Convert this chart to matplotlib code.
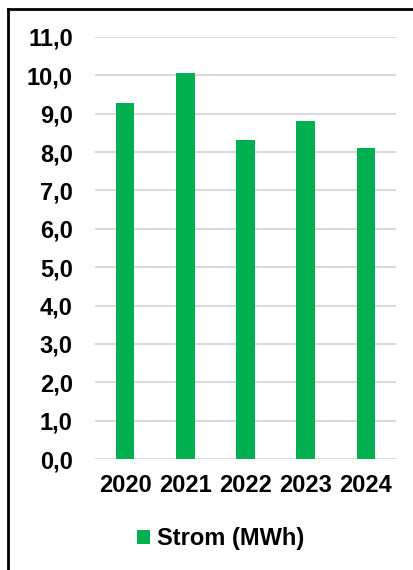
import matplotlib
matplotlib.use("Agg")
import matplotlib.pyplot as plt
from matplotlib.lines import Line2D

# ── Data ─────────────────────────────────────────────────────────────────────
years = ["2020", "2021", "2022", "2023", "2024"]
strom_mwh = [9.28, 10.07, 8.31, 8.81, 8.11]
y_ticks = [0, 1, 2, 3, 4, 5, 6, 7, 8, 9, 10, 11]

GREEN = "#00B050"
GRID = "#D9D9D9"

plt.rcParams["font.family"] = ["Liberation Sans", "DejaVu Sans"]
plt.rcParams["font.weight"] = "bold"

W, H = 413, 570
fig = plt.figure(figsize=(W / 100, H / 100), dpi=100)
ax = fig.add_axes([95 / W, 1 - 459 / H, (396 - 95) / W, (459 - 37) / H])

x = list(range(len(years)))
bars = ax.bar(x, strom_mwh, width=0.31, color=GREEN, label="Strom (MWh)", zorder=3)

ax.set_xlim(-0.5, len(years) - 0.5)
ax.set_ylim(0, 11)
ax.set_yticks(y_ticks)
ax.set_yticklabels([f"{v:.1f}".replace(".", ",") for v in y_ticks],
                   fontsize=17, fontweight="bold")
ax.set_xticks(x)
ax.set_xticklabels(years, fontsize=17, fontweight="bold")
ax.tick_params(axis="both", length=0)
ax.tick_params(axis="y", pad=16)
ax.tick_params(axis="x", pad=11)

for v in y_ticks:
    ax.axhline(v, color=GRID, linewidth=1.5, zorder=1)
for s in ax.spines.values():
    s.set_visible(False)

# legend below the axis
fig.legend(handles=[bars], loc="center", bbox_to_anchor=(221 / W, 1 - 539 / H),
           frameon=False, fontsize=17, prop={"weight": "bold", "size": 17},
           handlelength=0.55, handleheight=0.55, handletextpad=0.3)

# outer frame (only top and left edges visible)
fig.add_artist(Line2D([8 / W, 1], [1 - 9 / H, 1 - 9 / H], color="black",
                      linewidth=2, transform=fig.transFigure))
fig.add_artist(Line2D([8 / W, 8 / W], [0, 1 - 9 / H], color="black",
                      linewidth=2, transform=fig.transFigure))

fig.savefig("out.png", dpi=100)
